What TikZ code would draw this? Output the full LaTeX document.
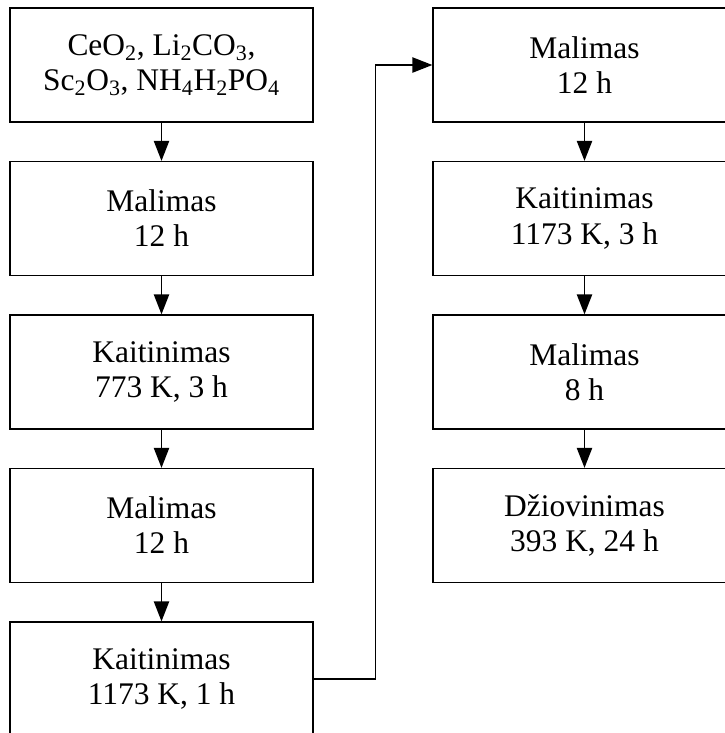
\documentclass[tikz,border=0pt]{standalone}
\usepackage{fontspec}
\setmainfont{Liberation Serif}
\usetikzlibrary{arrows.meta}
\begin{document}
\begin{tikzpicture}[x = 0.75pt, y = -0.75pt, line width = 1pt,
        stage/.style = {draw, align = center, minimum width = 227.25pt, minimum height = 85.5pt, inner sep = 0pt},
        flow/.style = {-{Triangle[length = 15pt, width = 11.5pt]}}]
        \useasboundingbox (0,0) rectangle (725,733);
        \begin{scope}[font = \fontsize{23.6}{26.3}\selectfont]
            % left column
            \node [stage] (start) at (161.5,65) {CeO\textsubscript{2}, Li\textsubscript{2}CO\textsubscript{3}, \\ Sc\textsubscript{2}O\textsubscript{3}, NH\textsubscript{4}H\textsubscript{2}PO\textsubscript{4}};
            \node [stage] (mal1) at (161.5,218.5) {Malimas \\ 12 h};
            \node [stage] (kait1) at (161.5,372) {Kaitinimas \\ 773 K, 3 h};
            \node [stage] (mal2) at (161.5,525.5) {Malimas \\ 12 h};
            \node [stage] (kait2) at (161.5,679) {Kaitinimas \\ 1173 K, 1 h};
            % right column
            \node [stage] (mal3) at (584.5,65) {Malimas \\ 12 h};
            \node [stage] (kait3) at (584.5,218.5) {Kaitinimas \\ 1173 K, 3 h};
            \node [stage] (mal4) at (584.5,372) {Malimas \\ 8 h};
            \node [stage] (dziov) at (584.5,525.5) {Džiovinimas \\ 393 K, 24 h};
        \end{scope}
        \draw [flow] (start) -- (mal1);
        \draw [flow] (mal1) -- (kait1);
        \draw [flow] (kait1) -- (mal2);
        \draw [flow] (mal2) -- (kait2);
        \draw [flow] (kait2.east) -- ++(61.5,0) |- (mal3.west);
        \draw [flow] (mal3) -- (kait3);
        \draw [flow] (kait3) -- (mal4);
        \draw [flow] (mal4) -- (dziov);
    \end{tikzpicture}
\end{document}
